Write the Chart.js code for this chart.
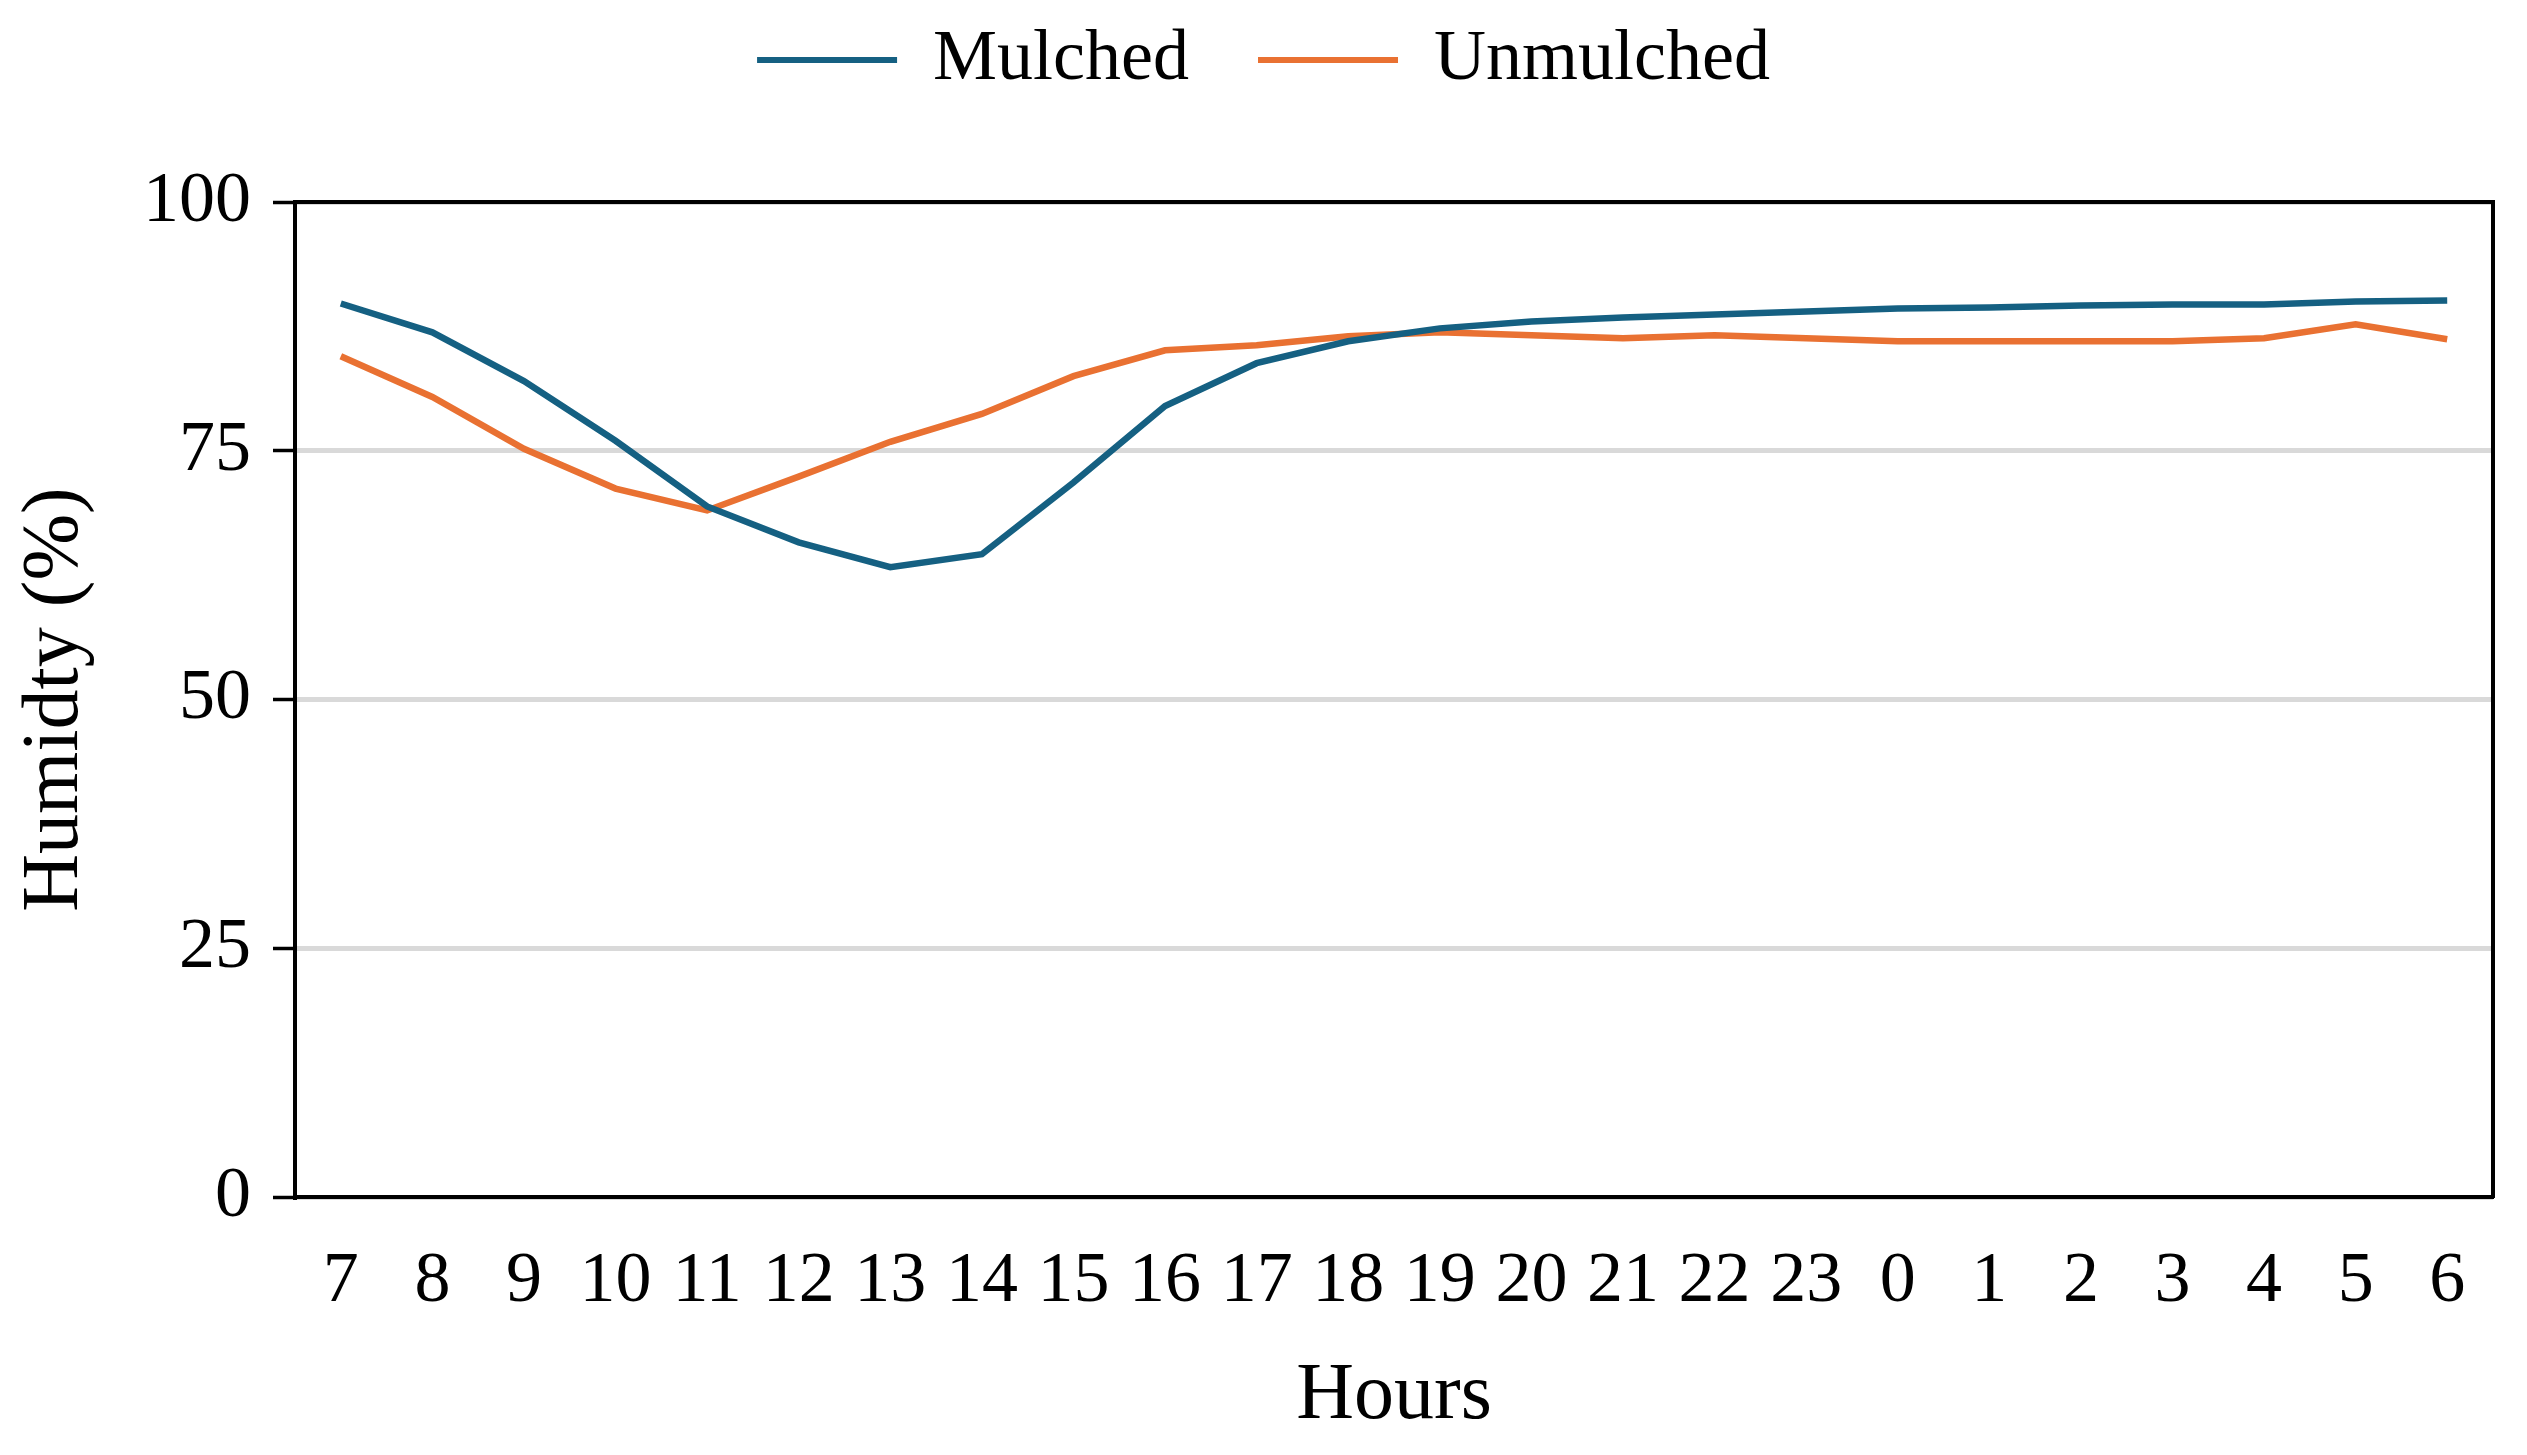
<!DOCTYPE html>
<html>
<head>
<meta charset="utf-8">
<script src="https://cdn.jsdelivr.net/npm/chart.js@4/dist/chart.umd.min.js"></script>
<style>
    html, body { margin: 0; padding: 0; background: #fff; }
    canvas { display: block; }
</style>
</head>
<body>
<canvas id="chart" width="2527" height="1455"></canvas>
<script>
const hours = ["7", "8", "9", "10", "11", "12", "13", "14", "15", "16", "17", "18",
    "19", "20", "21", "22", "23", "0", "1", "2", "3", "4", "5", "6"];
const mulched = [89.8, 86.9, 82.0, 76.0, 69.4, 65.8, 63.3, 64.6, 71.8, 79.5, 83.8, 86.0,
    87.3, 88.0, 88.4, 88.7, 89.0, 89.3, 89.4, 89.6, 89.7, 89.7, 90.0, 90.1];
const unmulched = [84.5, 80.4, 75.2, 71.2, 69.0, 72.4, 75.9, 78.7, 82.5, 85.1, 85.6, 86.5,
    86.9, 86.6, 86.3, 86.6, 86.3, 86.0, 86.0, 86.0, 86.0, 86.3, 87.7, 86.2];
const yTicks = [0, 25, 50, 75, 100];

const serif = "'Liberation Serif', 'Times New Roman', serif";
const blue = "#156082";
const orange = "#E97132";

const baseLabels = Chart.defaults.plugins.legend.labels.generateLabels;

new Chart(document.getElementById("chart"), {
    type: "line",
    data: {
        labels: hours,
        datasets: [{
            label: "Mulched",
            data: mulched,
            borderColor: blue,
            backgroundColor: blue,
            borderWidth: 6.5,
            pointRadius: 0,
            tension: 0
        }, {
            label: "Unmulched",
            data: unmulched,
            borderColor: orange,
            backgroundColor: orange,
            borderWidth: 6.5,
            pointRadius: 0,
            tension: 0
        }]
    },
    options: {
        responsive: false,
        devicePixelRatio: 1,
        animation: false,
        // legend padding is wide for the item gap, so pull it up
        layout: { padding: { top: -45, left: 0, right: 0, bottom: 0 } },
        plugins: {
            legend: {
                position: "top",
                labels: {
                    color: "#000",
                    font: { family: serif, size: 72 },
                    boxWidth: 140,
                    boxHeight: 6,
                    padding: 69,
                    generateLabels: (chart) => baseLabels(chart).map(l => {
                        l.lineWidth = 0;
                        return l;
                    })
                }
            },
            tooltip: { enabled: false }
        },
        scales: {
            x: {
                type: "category",
                position: "bottom",
                offset: true,
                z: 1,
                grid: { display: false, drawTicks: false },
                border: { display: true, color: "#000", width: 4 },
                ticks: {
                    color: "#000",
                    font: { family: serif, size: 72 },
                    padding: 42,
                    maxRotation: 0,
                    autoSkip: false
                },
                title: {
                    display: true,
                    text: "Hours",
                    color: "#000",
                    font: { family: serif, size: 80 },
                    padding: { top: 0, bottom: 10 }
                },
                afterFit: (s) => { s.height = 258; }
            },
            xTop: {
                type: "category",
                position: "top",
                offset: true,
                z: 1,
                grid: { display: false, drawTicks: false },
                border: { display: true, color: "#000", width: 4 },
                ticks: { display: false },
                afterFit: (s) => { s.height = 96; }
            },
            y: {
                position: "left",
                min: 0,
                max: 100,
                afterBuildTicks: (s) => { s.ticks = yTicks.map(v => ({ value: v })); },
                grid: {
                    color: "#d9d9d9",
                    lineWidth: 5,
                    tickColor: "#000",
                    tickWidth: 3.5,
                    tickLength: 22
                },
                border: { display: true, color: "#000", width: 4 },
                ticks: {
                    color: "#000",
                    font: { family: serif, size: 72 },
                    padding: 22
                },
                title: {
                    display: true,
                    text: "Humidty (%)",
                    color: "#000",
                    font: { family: serif, size: 80 },
                    padding: { top: 8, bottom: 0 }
                },
                afterFit: (s) => { s.width = 295; }
            },
            yRight: {
                position: "right",
                min: 0,
                max: 100,
                z: 1,
                grid: { display: false, drawTicks: false },
                border: { display: true, color: "#000", width: 4 },
                ticks: { display: false },
                afterFit: (s) => { s.width = 34; }
            }
        }
    }
});
</script>
</body>
</html>
